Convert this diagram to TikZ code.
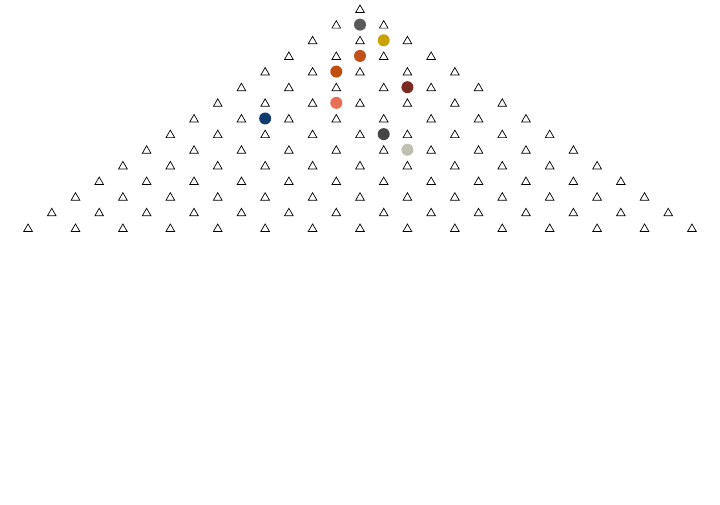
\documentclass[tikz,border=0pt]{standalone}
\usetikzlibrary{shapes.geometric}
\definecolor{ptgray}{HTML}{5A5A5A}
\definecolor{ptgold}{HTML}{C9A204}
\definecolor{ptorange}{HTML}{C1501A}
\definecolor{ptrust}{HTML}{C04E0E}
\definecolor{ptwine}{HTML}{7A2A24}
\definecolor{ptsalmon}{HTML}{E86E55}
\definecolor{ptnavy}{HTML}{0E3A6E}
\definecolor{ptdark}{HTML}{454545}
\definecolor{ptsage}{HTML}{BFC0B0}
\begin{document}
\begin{tikzpicture}[
                x=1pt, y=-1pt,
                latt/.style={
                    regular polygon,
                    regular polygon sides=3,
                    draw=black,
                    line width=0.7pt,
                    fill=white,
                    inner sep=0pt,
                    minimum size=10pt,
                    yshift=-1pt
                },
                walker/.style={
                    circle,
                    fill=#1,
                    inner sep=0pt,
                    minimum size=12pt
                }
            ]
                \useasboundingbox (0,0) rectangle (720,504);

                % lattice of open triangles
                \foreach \r in {0,...,14}
                    \foreach \i in {0,...,\r}
                        \node[latt] (t-\r-\i) at ({360+23.71*(2*\i-\r)}, {9+15.64*\r}) {};

                % coloured points
                \node[walker=ptgray]   (c1) at (360+23.71*0,  9+15.64*1) {};
                \node[walker=ptgold]   (c2) at (360+23.71*1,  9+15.64*2) {};
                \node[walker=ptorange] (c3) at (360+23.71*0,  9+15.64*3) {};
                \node[walker=ptrust]   (c4) at (360-23.71*1,  9+15.64*4) {};
                \node[walker=ptwine]   (c5) at (360+23.71*2,  9+15.64*5) {};
                \node[walker=ptsalmon] (c6) at (360-23.71*1,  9+15.64*6) {};
                \node[walker=ptnavy]   (c7) at (360-23.71*4,  9+15.64*7) {};
                \node[walker=ptdark]   (c8) at (360+23.71*1,  9+15.64*8) {};
                \node[walker=ptsage]   (c9) at (360+23.71*2,  9+15.64*9) {};
        \end{tikzpicture}
\end{document}
